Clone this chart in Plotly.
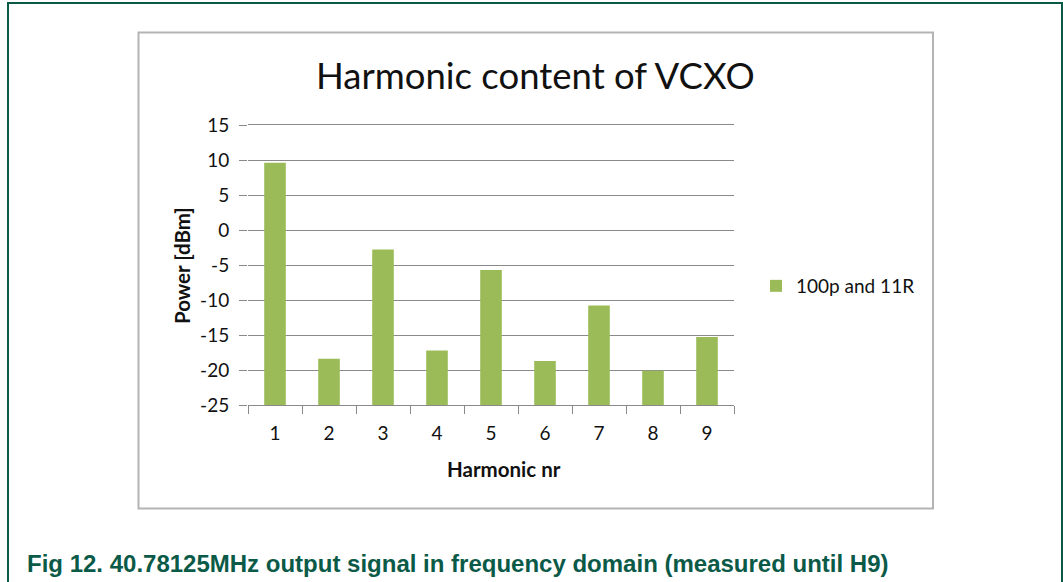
import plotly.graph_objects as go

# data
harmonics = ["1", "2", "3", "4", "5", "6", "7", "8", "9"]
power_dbm = [9.6, -18.4, -2.8, -17.2, -5.7, -18.7, -10.8, -20.1, -15.3]
series_name = "100p and 11R"
y_floor = -25  # horizontal axis crosses at the bottom, bars grow from there
y_ticks = [-25, -20, -15, -10, -5, 0, 5, 10, 15]
y_tick_labels = ["-25", "-20", "-15", "-10", "-5", "0", "5", "10", "15"]

WIDTH, HEIGHT = 1063, 582
PLOT_L, PLOT_R, PLOT_T, PLOT_B = 248, 734, 125, 405

BAR = "#9bbb59"
GRIDC = "#8a8a8a"
FRAME = "#0b5a48"
BOX = "#b4b4b4"
TXT = "#111111"
CHART_FONT = "Lato, Carlito, Calibri, sans-serif"


def px(x):
    return (x - PLOT_L) / (PLOT_R - PLOT_L)


def py(y):
    return (PLOT_B - y) / (PLOT_B - PLOT_T)


fig = go.Figure()
fig.add_trace(
    go.Bar(
        x=harmonics,
        y=[v - y_floor for v in power_dbm],
        base=y_floor,
        marker={"color": BAR, "line": {"width": 0}},
        customdata=power_dbm,
        hovertemplate="H%{x}: %{customdata} dBm<extra></extra>",
        name=series_name,
        showlegend=True,
    )
)

# outer document frame (green) and chart box (grey)
fig.add_shape(type="rect", xref="paper", yref="paper",
              x0=px(8), x1=px(1062), y0=py(3), y1=py(600),
              line={"color": FRAME, "width": 2}, layer="below")
fig.add_shape(type="rect", xref="paper", yref="paper",
              x0=px(138.5), x1=px(933), y0=py(32.5), y1=py(508.5),
              line={"color": BOX, "width": 2}, layer="below")

fig.add_annotation(text="Harmonic content of VCXO", xref="paper", yref="paper",
                   x=px(535), y=py(75), xanchor="center", yanchor="middle", showarrow=False,
                   font={"family": CHART_FONT, "size": 36.5, "color": TXT})
fig.add_annotation(text="<b>Power [dBm]</b>", xref="paper", yref="paper",
                   x=px(182), y=py(266), xanchor="center", yanchor="middle", showarrow=False,
                   textangle=-90, font={"family": CHART_FONT, "size": 20.5, "color": TXT})
fig.add_annotation(text="<b>Harmonic nr</b>", xref="paper", yref="paper",
                   x=px(504), y=py(469), xanchor="center", yanchor="middle", showarrow=False,
                   font={"family": CHART_FONT, "size": 20.5, "color": TXT})
fig.add_annotation(text="<b>Fig 12. 40.78125MHz output signal in frequency domain (measured until H9)</b>",
                   xref="paper", yref="paper", x=px(25), y=py(563), xanchor="left", yanchor="middle",
                   showarrow=False,
                   font={"family": "Liberation Sans, Arial, sans-serif", "size": 24, "color": FRAME})

fig.update_layout(
    width=WIDTH,
    height=HEIGHT,
    margin={"l": PLOT_L, "r": WIDTH - PLOT_R, "t": PLOT_T, "b": HEIGHT - PLOT_B, "pad": 0},
    paper_bgcolor="white",
    plot_bgcolor="white",
    bargap=0.6,
    font={"family": CHART_FONT, "color": TXT},
    legend={"x": px(756), "y": py(286), "xanchor": "left", "yanchor": "middle",
            "font": {"size": 19, "family": CHART_FONT, "color": TXT},
            "bgcolor": "rgba(0,0,0,0)", "itemwidth": 30},
)
fig.update_xaxes(type="category", tickson="boundaries", ticks="outside", ticklen=8,
                 tickcolor=GRIDC, showline=True, mirror=True, linecolor=GRIDC, linewidth=1,
                 showgrid=False, tickfont={"size": 19}, ticklabelstandoff=11)
fig.update_yaxes(range=[-25, 15], tickvals=y_ticks, ticktext=y_tick_labels,
                 ticks="outside", ticklen=8, tickcolor=GRIDC,
                 showgrid=True, gridcolor=GRIDC, gridwidth=1, zeroline=False, showline=False,
                 tickfont={"size": 19}, ticklabelstandoff=6)

# the page body has a default 8px margin; drop it so the figure sits at the window corner
fig.write_html("out.html", config={"displayModeBar": False},
               post_script="document.body.style.margin='0';")
